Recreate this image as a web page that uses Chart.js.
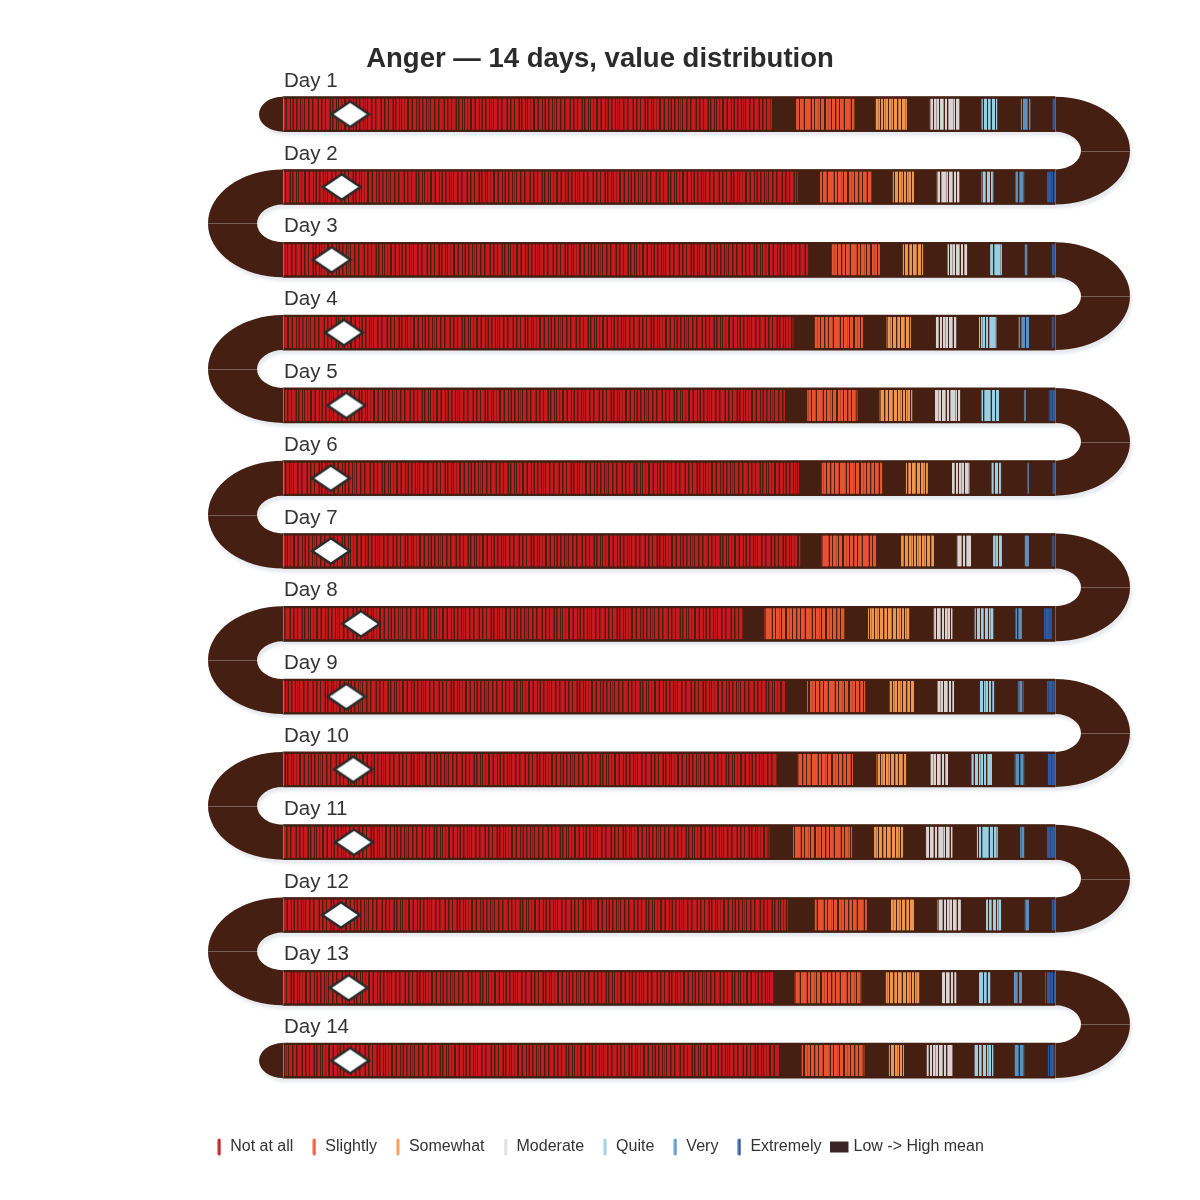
<!DOCTYPE html>
<html>
<head>
<meta charset="utf-8">
<title>Anger — 14 days, value distribution</title>
<script src="https://cdn.jsdelivr.net/npm/chart.js@4.4.1/dist/chart.umd.min.js"></script>
<style>
  html, body { margin: 0; padding: 0; background: #fff; }
  #wrap { width: 1200px; height: 1200px; position: relative; }
</style>
</head>
<body>
<div id="wrap"><canvas id="chart"></canvas></div>
<script>
// ---- data (positions along each day's band, 0 = left end, 100 = right end) ----
const days = ['Day 1', 'Day 2', 'Day 3', 'Day 4', 'Day 5', 'Day 6', 'Day 7',
              'Day 8', 'Day 9', 'Day 10', 'Day 11', 'Day 12', 'Day 13', 'Day 14'];
const categories = ['Not at all', 'Slightly', 'Somewhat', 'Moderate', 'Quite', 'Very', 'Extremely'];

const notAtAll = [[0, 63.3], [0, 66.7], [0, 68.0], [0, 66.1], [0, 65.0], [0, 66.8], [0, 67.0],
                  [0, 59.5], [0, 65.0], [0, 63.9], [0, 63.0], [0, 65.4], [0, 63.5], [0, 64.2]];
const slightly = [[66.5, 74.0], [69.6, 76.2], [71.1, 77.3], [68.9, 75.1], [67.9, 74.4], [69.8, 77.6], [69.8, 76.8],
                  [62.4, 72.7], [67.9, 75.4], [66.7, 73.8], [66.1, 73.7], [68.9, 75.6], [66.3, 74.9], [67.2, 75.3]];
const somewhat = [[76.8, 80.8], [79.0, 81.7], [80.3, 82.9], [78.2, 81.3], [77.3, 81.5], [80.7, 83.5], [80.1, 84.3],
                  [75.8, 81.1], [78.6, 81.7], [76.9, 80.7], [76.6, 80.3], [78.8, 81.7], [78.1, 82.4], [78.5, 80.4]];
const moderate = [[83.8, 87.6], [84.7, 87.6], [86.1, 88.6], [84.6, 87.2], [84.5, 87.7], [86.7, 88.9], [87.3, 89.1],
                  [84.3, 86.7], [84.8, 86.9], [83.9, 86.1], [83.3, 86.7], [84.8, 87.8], [85.4, 87.2], [83.4, 86.7]];
const quite = [[90.5, 92.5], [90.5, 92.0], [91.6, 93.1], [90.2, 92.4], [90.5, 92.7], [91.8, 93.0], [92.0, 93.1],
               [89.6, 92.0], [90.3, 92.1], [89.2, 91.8], [89.9, 92.6], [91.1, 93.0], [90.2, 91.6], [89.6, 92.0]];
const very = [[95.6, 96.8], [94.9, 96.0], [96.1, 96.4], [95.3, 96.6], [96.0, 96.2], [96.4, 96.6], [96.1, 96.6],
              [94.9, 95.7], [95.2, 95.9], [94.8, 96.0], [95.5, 96.0], [96.1, 96.6], [94.7, 95.7], [94.8, 96.0]];
const extremely = [[99.7, 100], [99.0, 100], [99.6, 100], [99.6, 99.9], [99.2, 100], [99.7, 100], [99.6, 99.9],
                   [98.6, 99.6], [99.0, 100], [99.1, 100], [99.0, 100], [99.6, 100], [98.7, 100], [99.1, 99.9]];
const meanPos = [8.7, 7.6, 6.3, 7.9, 8.2, 6.2, 6.2, 10.1, 8.2, 9.1, 9.2, 7.5, 8.5, 8.7];

const fullBand = days.map(() => [0, 100]);
const spans = [notAtAll, slightly, somewhat, moderate, quite, very, extremely];

// ---- styles ----
const FONT = "'Liberation Sans', Arial, Helvetica, sans-serif";
const BROWN = '#452012';
const legendColors = ['#cb1d25', '#ef5b3a', '#f5a15a', '#e0e0e0', '#a3d1e6', '#5e9bcd', '#2f5aa7'];
const stripeColors = [
  ['#c61a1f', '#93181a'], ['#e5532f', '#b9452a'], ['#f0964a', '#b9753d'], ['#d9d4d3', '#a39592'],
  ['#9ccee2', '#6f98a8'], ['#5c90c1', '#456f99'], ['#31599f', '#2a4a86']
];
// one char per pixel column: M main colour, D darker shade, k band background
const stripeTiles = [
  'MMDkMMkDMMkMMMDkMkDMMkMkMMDMMkkMMDkMMMkMDkMMkDMMkMDMkMMMkDMMkDM',
  'MMMDkMMkMMMDMkMMMkkMMDMMkMMMkDMMkMMMDkMM',
  'MMDMkMMMkDMMkMMMDkMMMkMMDMkMMkMDMMk',
  'MMDMkMMMDkMMkMMDMMkMMMDkMMkDMM',
  'MMDkMMMkMMDkMMMkMDMMkMMkDMMM',
  'MMDkMMMkDMMkMMkDMMMkMM',
  'MMDMMMDMkMMMDMMkMMDM'
];
const BAND_LEFT = 283, BAND_RIGHT = 1055, CANVAS_W = 1200;
const HALF = 17.5;            // half height of the band, px
const TURN_OUT = 75, TURN_IN = 26, CAP = 24;

const pxPerUnit = (BAND_RIGHT - BAND_LEFT) / 100;
const xMin = -BAND_LEFT / pxPerUnit;
const xMax = xMin + CANVAS_W / pxPerUnit;

function stripePatterns(k) {
  const str = stripeTiles[k];
  const tile = document.createElement('canvas');
  tile.width = str.length; tile.height = 1;
  const g = tile.getContext('2d');
  for (let i = 0; i < str.length; i++) {
    g.fillStyle = str[i] === 'M' ? stripeColors[k][0] : str[i] === 'D' ? stripeColors[k][1] : BROWN;
    g.fillRect(i, 0, 1, 1);
  }
  const ctx = document.createElement('canvas').getContext('2d');
  return days.map((d, i) => {
    const p = ctx.createPattern(tile, 'repeat');
    p.setTransform(new DOMMatrix([1, 0, 0, 1, i * 23 + k * 7, 0]));
    return p;
  });
}

function diamond() {
  const c = document.createElement('canvas');
  c.width = 42; c.height = 30;
  const g = c.getContext('2d');
  g.beginPath();
  g.moveTo(21, 2.2); g.lineTo(39.8, 15); g.lineTo(21, 27.8); g.lineTo(2.2, 15); g.closePath();
  g.fillStyle = '#ffffff'; g.fill();
  g.lineWidth = 2.6; g.strokeStyle = '#2a2a2a'; g.lineJoin = 'miter'; g.stroke();
  return c;
}

function lineMarker(color) {
  const c = document.createElement('canvas');
  c.width = 4; c.height = 18;
  const g = c.getContext('2d');
  g.strokeStyle = color; g.lineWidth = 3; g.lineCap = 'round';
  g.beginPath(); g.moveTo(2, 2); g.lineTo(2, 16); g.stroke();
  return c;
}

function rectMarker(color) {
  const c = document.createElement('canvas');
  c.width = 26; c.height = 12;
  const g = c.getContext('2d');
  g.fillStyle = color;
  g.fillRect(0, 0.5, 19, 11);
  return c;
}

const serpentine = {
  id: 'serpentine',
  beforeDatasetsDraw(chart) {
    const { ctx, scales: { x, y } } = chart;
    const x0 = x.getPixelForValue(0), x1 = x.getPixelForValue(100);
    const yc = days.map((d, i) => y.getPixelForValue(i));
    ctx.save();
    ctx.beginPath();
    yc.forEach(c => ctx.rect(x0, c - HALF, x1 - x0, 2 * HALF));
    for (let i = 0; i < yc.length - 1; i++) {
      const cy = (yc[i] + yc[i + 1]) / 2, gap = (yc[i + 1] - yc[i]) / 2;
      const R = gap + HALF, r = gap - HALF;
      if (i % 2 === 0) {
        ctx.moveTo(x1, cy - R);
        ctx.ellipse(x1, cy, TURN_OUT, R, 0, -Math.PI / 2, Math.PI / 2, false);
        ctx.lineTo(x1, cy + r);
        ctx.ellipse(x1, cy, TURN_IN, r, 0, Math.PI / 2, -Math.PI / 2, true);
      } else {
        ctx.moveTo(x0, cy + R);
        ctx.ellipse(x0, cy, TURN_OUT, R, 0, Math.PI / 2, Math.PI * 1.5, false);
        ctx.lineTo(x0, cy - r);
        ctx.ellipse(x0, cy, TURN_IN, r, 0, Math.PI * 1.5, Math.PI / 2, true);
      }
      ctx.closePath();
    }
    [yc[0], yc[yc.length - 1]].forEach(c => {
      ctx.moveTo(x0, c + HALF);
      ctx.ellipse(x0, c, CAP, HALF, 0, Math.PI / 2, Math.PI * 1.5, false);
      ctx.closePath();
    });
    ctx.shadowColor = 'rgba(165, 175, 195, 0.28)';
    ctx.shadowBlur = 3; ctx.shadowOffsetX = 2; ctx.shadowOffsetY = 4;
    ctx.fillStyle = BROWN;
    ctx.fill();
    ctx.restore();
  },
  afterDatasetsDraw(chart) {
    const { ctx, scales: { x, y } } = chart;
    const x0 = x.getPixelForValue(0), x1 = x.getPixelForValue(100);
    const yc = days.map((d, i) => y.getPixelForValue(i));
    ctx.save();
    ctx.lineWidth = 1;
    ctx.strokeStyle = 'rgba(255, 255, 255, 0.28)';
    yc.forEach(c => {
      ctx.beginPath();
      ctx.moveTo(x0 + 0.5, c - HALF); ctx.lineTo(x0 + 0.5, c + HALF);
      ctx.moveTo(x1 + 0.5, c - HALF); ctx.lineTo(x1 + 0.5, c + HALF);
      ctx.stroke();
    });
    for (let i = 0; i < yc.length - 1; i++) {
      const cy = Math.round((yc[i] + yc[i + 1]) / 2) + 0.5;
      ctx.beginPath();
      if (i % 2 === 0) { ctx.moveTo(x1 + TURN_IN, cy); ctx.lineTo(x1 + TURN_OUT, cy); }
      else { ctx.moveTo(x0 - TURN_OUT, cy); ctx.lineTo(x0 - TURN_IN, cy); }
      ctx.stroke();
    }
    ctx.fillStyle = '#333333';
    ctx.font = '20.5px ' + FONT;
    ctx.textAlign = 'left';
    ctx.textBaseline = 'alphabetic';
    yc.forEach((c, i) => ctx.fillText(days[i], x0 + 1, c - HALF - 10));
    ctx.restore();
  }
};

const datasets = [{
  type: 'bar', label: 'band', data: fullBand, backgroundColor: BROWN,
  barThickness: 35, grouped: false, order: 10, borderWidth: 0
}];
spans.forEach((arr, k) => datasets.push({
  type: 'bar', label: categories[k], data: arr,
  backgroundColor: stripePatterns(k),
  borderColor: stripeColors[k][0],
  borderWidth: { left: 1, right: 1, top: 0, bottom: 0 },
  borderSkipped: false,
  barThickness: 31, grouped: false, order: 5
}));
datasets.push({
  type: 'scatter', label: 'mean',
  data: meanPos.map((v, i) => ({ x: v, y: days[i] })),
  pointStyle: diamond(), pointRadius: 10, order: 0
});

const legendItems = categories.map((c, k) => ({
  text: c, pointStyle: lineMarker(legendColors[k]), fillStyle: legendColors[k],
  strokeStyle: legendColors[k], lineWidth: 0, hidden: false, fontColor: '#333333'
}));
legendItems.push({
  text: 'Low -> High mean', pointStyle: rectMarker('#3c2426'), fillStyle: '#3c2426',
  strokeStyle: '#3c2426', lineWidth: 0, hidden: false, fontColor: '#333333'
});

Chart.defaults.font.family = FONT;

new Chart(document.getElementById('chart'), {
  type: 'bar',
  data: { labels: days, datasets },
  plugins: [serpentine],
  options: {
    indexAxis: 'y',
    responsive: true,
    maintainAspectRatio: false,
    animation: false,
    events: [],
    layout: { autoPadding: false, padding: { top: 0, bottom: 35, left: 0, right: 0 } },
    scales: {
      x: {
        type: 'linear', min: xMin, max: xMax, display: true,
        grid: { display: false }, border: { display: false }, ticks: { display: false },
        afterFit(scale) { scale.height = 24; }
      },
      y: { type: 'category', offset: true, display: false }
    },
    plugins: {
      title: {
        display: true,
        text: 'Anger — 14 days, value distribution',
        color: '#2b2b2b',
        font: { family: FONT, size: 27.5, weight: 'bold' },
        padding: { top: 43.1, bottom: 1.7 }
      },
      legend: {
        position: 'bottom',
        labels: {
          usePointStyle: true, pointStyleWidth: 6, boxHeight: 16, padding: 18,
          color: '#333333', font: { family: FONT, size: 16 },
          generateLabels: () => legendItems
        }
      },
      tooltip: { enabled: false }
    }
  }
});
</script>
</body>
</html>
